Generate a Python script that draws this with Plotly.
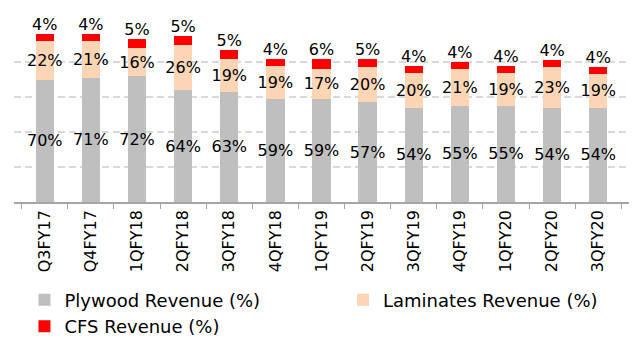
import plotly.graph_objects as go

quarters = ["Q3FY17", "Q4FY17", "1QFY18", "2QFY18", "3QFY18", "4QFY18", "1QFY19",
            "2QFY19", "3QFY19", "4QFY19", "1QFY20", "2QFY20", "3QFY20"]
plywood = [70, 71, 72, 64, 63, 59, 59, 57, 54, 55, 55, 54, 54]
laminates = [22, 21, 16, 26, 19, 19, 17, 20, 20, 21, 19, 23, 19]
cfs = [4, 4, 5, 5, 5, 4, 6, 5, 4, 4, 4, 4, 4]

FONT = "DejaVu Sans"
label_font = dict(family=FONT, size=16, color="black")

def pct(vals):
    return [f"{v}%" for v in vals]

fig = go.Figure()
fig.add_trace(go.Bar(
    x=quarters, y=plywood, name="Plywood Revenue (%)",
    marker=dict(color="#BFBFBF", line=dict(width=0)),
    text=pct(plywood), textposition="inside", insidetextanchor="middle",
    textangle=0, constraintext="none", insidetextfont=label_font,
    legend="legend", legendgroup="ply", hoverinfo="skip",
))
fig.add_trace(go.Bar(
    x=quarters, y=laminates, name="Laminates Revenue (%)",
    marker=dict(color="#FCD5B5", line=dict(width=0)),
    text=pct(laminates), textposition="inside", insidetextanchor="middle",
    textangle=0, constraintext="none", insidetextfont=label_font,
    legend="legend2", hoverinfo="skip",
))
fig.add_trace(go.Bar(
    x=quarters, y=cfs, name="CFS Revenue (%)",
    marker=dict(color="#FF0000", line=dict(width=0)),
    legend="legend", legendgroup="cfs", hoverinfo="skip",
))
# CFS share labels sit just above each stack
totals = [p + l + c for p, l, c in zip(plywood, laminates, cfs)]
fig.add_trace(go.Scatter(
    x=quarters, y=totals, mode="text", text=pct(cfs),
    textposition="top center", textfont=label_font,
    showlegend=False, hoverinfo="skip", cliponaxis=False,
))

legend_font = dict(family=FONT, size=18, color="black")
fig.update_layout(
    width=633, height=341,
    margin=dict(l=14, r=4, t=27, b=139, autoexpand=False),
    barmode="stack", bargap=0.6,
    plot_bgcolor="white", paper_bgcolor="white",
    font=dict(family=FONT, size=16, color="black"),
    showlegend=True,
    legend=dict(
        orientation="v", traceorder="normal", tracegroupgap=3,
        x=0.017, xanchor="left", y=-0.455, yanchor="top",
        font=legend_font, bgcolor="rgba(0,0,0,0)", borderwidth=0,
    ),
    legend2=dict(
        orientation="v",
        x=0.535, xanchor="left", y=-0.455, yanchor="top",
        font=legend_font, bgcolor="rgba(0,0,0,0)", borderwidth=0,
    ),
    xaxis=dict(
        type="category", tickangle=-90, tickson="boundaries",
        ticks="outside", ticklen=5, tickcolor="#A6A6A6",
        showline=True, linecolor="#A6A6A6", linewidth=1.5,
        tickfont=dict(family=FONT, size=16, color="black"),
        showgrid=False, automargin=False,
    ),
    yaxis=dict(
        range=[0, 100], dtick=20, showticklabels=False,
        showgrid=True, gridcolor="#D9D9D9", gridwidth=1.5, griddash="7px,4px",
        zeroline=False, showline=False, automargin=False,
    ),
)

fig.write_html("out.html")
